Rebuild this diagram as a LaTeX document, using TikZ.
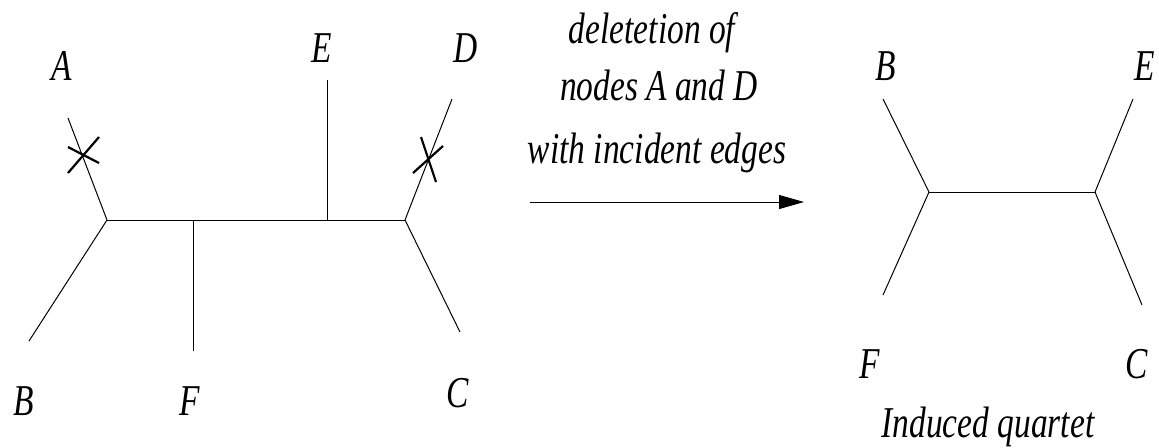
\documentclass[tikz,border=0pt]{standalone}
\usepackage{fontspec}
\newfontfamily\lblfont{Liberation Serif}[FakeStretch=0.76]
\usetikzlibrary{arrows.meta}
\begin{document}
\begin{tikzpicture}[x=0.5pt,y=-0.5pt,
  edge/.style={line width=0.5pt},
  xmark/.style={line width=1.1pt},
  lbl/.style={anchor=base,inner sep=0pt,font=\lblfont\itshape\fontsize{22}{26}\selectfont},
  every node/.style={inner sep=0pt}]
\useasboundingbox (0,0) rectangle (1159,447);
% left tree vertices
\coordinate (u) at (107,220);
\coordinate (v) at (193,220);
\coordinate (w) at (327,220);
\coordinate (z) at (405,220);
\coordinate (la) at (68,118);
\coordinate (lb) at (29,341);
\coordinate (lf) at (193,351);
\coordinate (le) at (327,80);
\coordinate (ld) at (452,99);
\coordinate (lc) at (460,332);
\draw[edge] (u) -- (la);
\draw[edge] (u) -- (lb);
\draw[edge] (u) -- (z);
\draw[edge] (v) -- (lf);
\draw[edge] (w) -- (le);
\draw[edge] (z) -- (ld);
\draw[edge] (z) -- (lc);
% crosses
\coordinate (xa1) at (68,173); \coordinate (xa2) at (99,137);
\coordinate (xa3) at (68,147); \coordinate (xa4) at (99,163);
\draw[xmark] (xa1) -- (xa2);
\draw[xmark] (xa3) -- (xa4);
\coordinate (xd1) at (421,137); \coordinate (xd2) at (436,182);
\coordinate (xd3) at (413,173); \coordinate (xd4) at (443,146);
\draw[xmark] (xd1) -- (xd2);
\draw[xmark] (xd3) -- (xd4);
% left labels
\node[lbl] (A) at (62,80) {A};
\node[lbl] (E) at (322,62) {E};
\node[lbl] (D) at (466,62) {D};
\node[lbl] (B) at (24,415) {B};
\node[lbl] (F) at (190,415) {F};
\node[lbl] (C) at (458,407) {C};
% middle text and arrow
\node[lbl] (t1) at (652,43) {deletetion of};
\node[lbl] (t2) at (659,100) {nodes A and D};
\node[lbl] (t3) at (657,163) {with incident edges};
\coordinate (a0) at (530,202);
\coordinate (a1) at (804,202);
\draw[edge,-{Triangle[length=12.5pt,width=7pt]}] (a0) -- (a1);
% right tree
\coordinate (p) at (929,192);
\coordinate (q) at (1095,192);
\coordinate (rb) at (883,99);
\coordinate (re) at (1133,99);
\coordinate (rf) at (883,295);
\coordinate (rc) at (1142,305);
\draw[edge] (p) -- (q);
\draw[edge] (p) -- (rb);
\draw[edge] (p) -- (rf);
\draw[edge] (q) -- (re);
\draw[edge] (q) -- (rc);
\node[lbl] (B2) at (886,80) {B};
\node[lbl] (E2) at (1145,80) {E};
\node[lbl] (F2) at (870,378) {F};
\node[lbl] (C2) at (1137,378) {C};
\node[lbl] (iq) at (988,437) {Induced quartet};
\end{tikzpicture}
\end{document}
